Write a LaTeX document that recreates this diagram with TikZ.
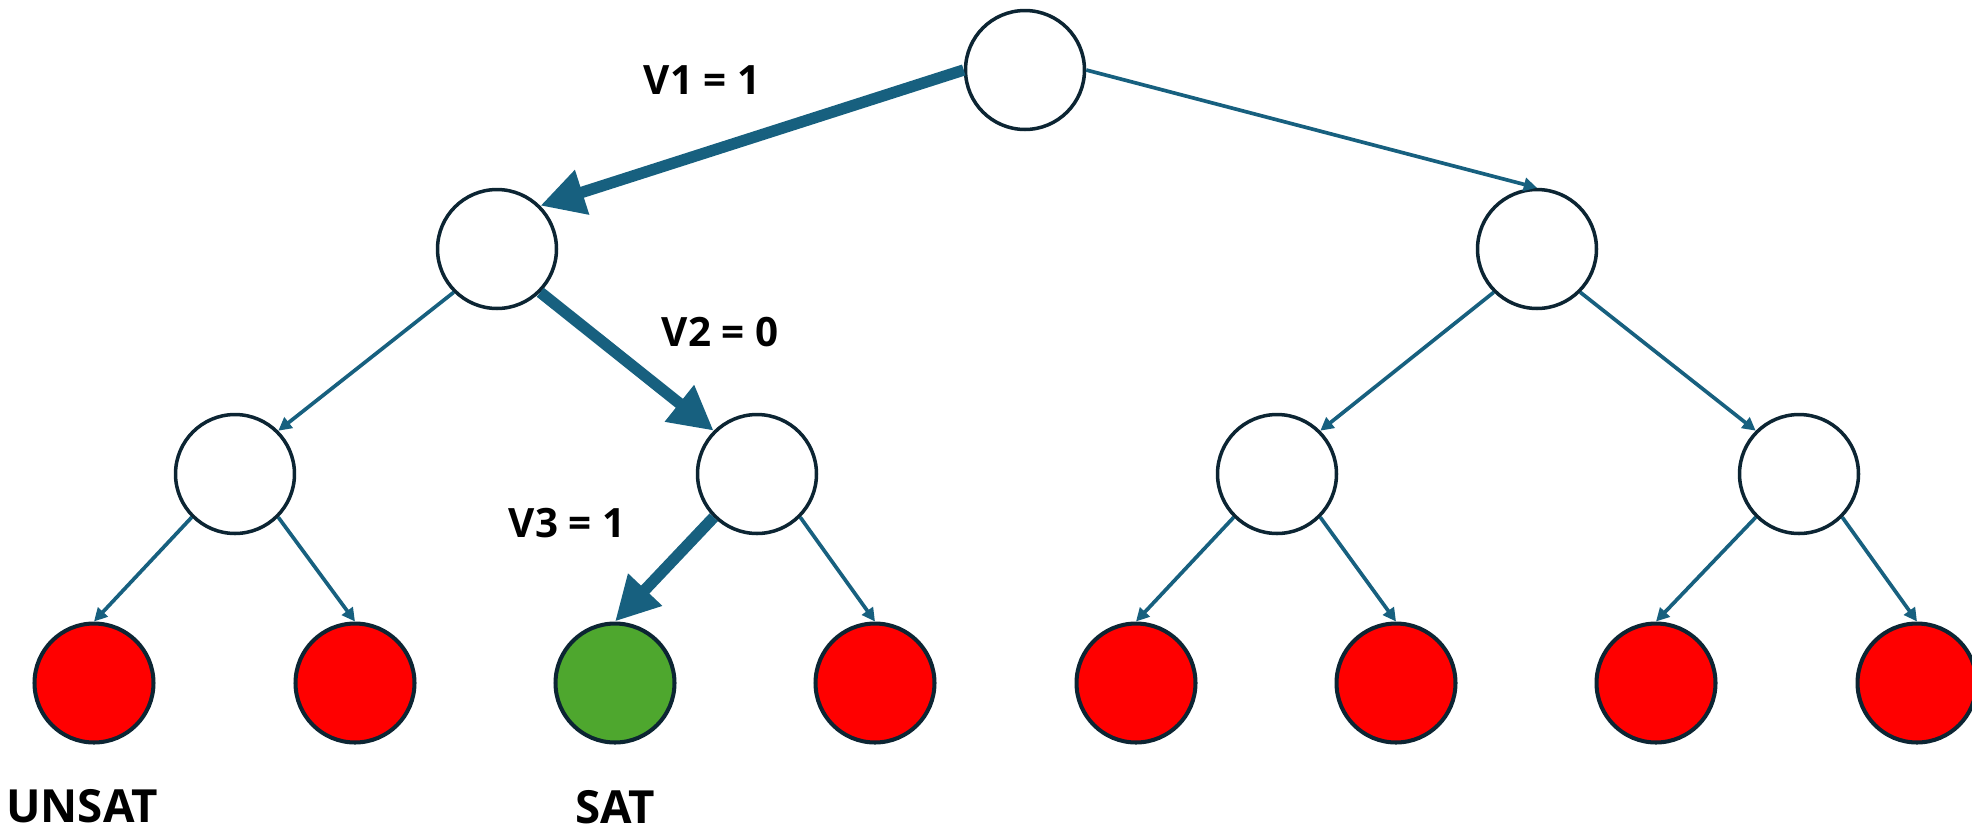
\documentclass[tikz,border=0pt]{standalone}
\usepackage{fontspec}
\setsansfont{Open Sans}
\usetikzlibrary{arrows.meta}
\definecolor{edgeblue}{HTML}{17607F}
\definecolor{ringnavy}{HTML}{0C2533}
\definecolor{satgreen}{HTML}{4EA72E}

\begin{document}
\begin{tikzpicture}[x=0.02cm, y=-0.02cm,
    state/.style={circle, draw=ringnavy, line width=2pt, fill=white, minimum size=2.38cm, inner sep=0pt},
    unsat/.style={state, fill=red, line width=2.3pt},
    sat/.style={state, fill=satgreen, line width=2.3pt},
    branch/.style={draw=edgeblue, line width=2.1pt, -{Triangle[length=7.5pt,width=7.5pt]}},
    chosen/.style={draw=edgeblue, line width=6.5pt, -{Triangle[length=25pt,width=25pt]}},
    lbl/.style={inner sep=0pt, font=\sffamily\bfseries\fontsize{23}{27}\selectfont},
    result/.style={inner sep=0pt, font=\sffamily\bfseries\fontsize{26}{30}\selectfont}]
    \useasboundingbox (0,0) rectangle (1972,833);

    %Tree
    \node[state] (root) at (1025,70) {};
    \node[state] (n1L) at (497,249) {};
    \node[state] (n1R) at (1537,249) {};

    \node[state] (n2a) at (235,474) {};
    \node[state] (n2b) at (757,474) {};
    \node[state] (n2c) at (1277,474) {};
    \node[state] (n2d) at (1799,474) {};

    \node[unsat] (leaf1) at (94,683) {};
    \node[unsat] (leaf2) at (355,683) {};
    \node[sat]   (leaf3) at (615,683) {};
    \node[unsat] (leaf4) at (875,683) {};
    \node[unsat] (leaf5) at (1136,683) {};
    \node[unsat] (leaf6) at (1396,683) {};
    \node[unsat] (leaf7) at (1656,683) {};
    \node[unsat] (leaf8) at (1917,683) {};

    %Branches
    \draw[chosen] (root.west) -- (n1L.north east);
    \draw[branch] (root.east) -- (n1R.north);

    \draw[branch] (n1L.south west) -- (n2a.north east);
    \draw[chosen] (n1L.south east) -- (n2b.north west);
    \draw[branch] (n1R.south west) -- (n2c.north east);
    \draw[branch] (n1R.south east) -- (n2d.north west);

    \draw[branch] (n2a.south west) -- (leaf1.north);
    \draw[branch] (n2a.south east) -- (leaf2.north);
    \draw[chosen] (n2b.south west) -- (leaf3.north);
    \draw[branch] (n2b.south east) -- (leaf4.north);
    \draw[branch] (n2c.south west) -- (leaf5.north);
    \draw[branch] (n2c.south east) -- (leaf6.north);
    \draw[branch] (n2d.south west) -- (leaf7.north);
    \draw[branch] (n2d.south east) -- (leaf8.north);

    %Assignments
    \node[lbl] (v1lbl) at (702,80) {V1 = 1};
    \node[lbl] (v2lbl) at (720,332) {V2 = 0};
    \node[lbl] (v3lbl) at (567,523) {V3 = 1};

    \node[result] (unsatlbl) at (82,806) {UNSAT};
    \node[result] (satlbl) at (615,807) {SAT};
\end{tikzpicture}
\end{document}
